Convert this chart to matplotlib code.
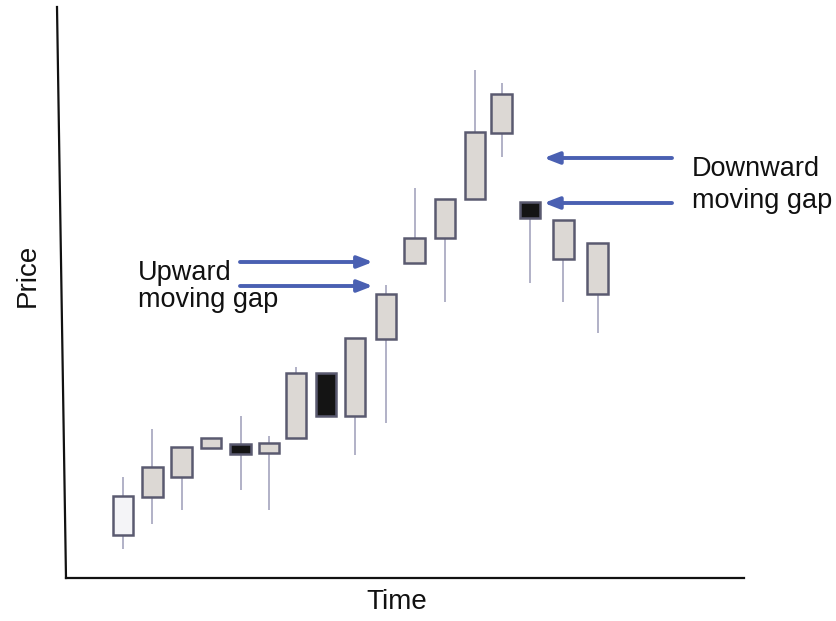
import matplotlib
matplotlib.use("Agg")
import matplotlib.pyplot as plt
from matplotlib.patches import Rectangle
from matplotlib.lines import Line2D

plt.rcParams['font.family'] = ['Liberation Sans', 'DejaVu Sans']

# Data (time units, price units)
times  = [1.90, 2.88, 3.85, 4.83, 5.82, 6.77, 7.67, 8.67, 9.63, 10.67, 11.62, 12.63, 13.63, 14.52, 15.47, 16.58, 17.72]
body_lo = [4.3, 8.1, 10.1, 13.0, 12.4, 12.5, 14.0, 16.2, 16.2, 23.9, 31.5, 34.0, 37.9, 44.5, 36.0, 31.9, 28.4]
body_hi = [8.2, 11.1, 13.1, 14.0, 13.4, 13.5, 20.5, 20.5, 24.0, 28.4, 34.0, 37.9, 44.6, 48.4, 37.6, 35.8, 33.5]
highs   = [10.1, 14.9, 13.1, 14.0, 16.2, 14.2, 21.1, 20.5, 24.0, 29.3, 39.0, 37.9, 50.8, 49.5, 37.6, 35.8, 33.5]
lows    = [2.9, 5.4, 6.8, 13.0, 8.8, 6.8, 14.0, 16.2, 12.3, 15.5, 31.5, 27.6, 37.9, 42.1, 29.5, 27.6, 24.5]
kinds   = ['white', 'gray', 'gray', 'gray', 'black', 'gray', 'gray', 'black', 'gray', 'gray',
           'gray', 'gray', 'gray', 'gray', 'black', 'gray', 'gray']

up_arrow_y = [31.6, 29.2]
up_arrow_x = (5.8, 10.23)
down_arrow_y = [42.0, 37.5]
down_arrow_x = (20.2, 15.93)

fill_colors = {'white': '#f4f4f7', 'gray': '#dcd8d4', 'black': '#141414'}
edge_color = '#5a5a70'
wick_color = '#9c9cb8'
arrow_color = '#4a60b2'

W, H = 836, 621
fig = plt.figure(figsize=(W / 100, H / 100), dpi=100)
fig.patch.set_facecolor('white')
ax = fig.add_axes([66 / W, 1 - 578 / H, (744 - 66) / W, (578 - 7) / H])
ax.set_xlim(0, (744 - 66) / 30)
ax.set_ylim(0, (578 - 7) / 10)
ax.set_xticks([])
ax.set_yticks([])
for s in ['top', 'right', 'left']:
    ax.spines[s].set_visible(False)
ax.spines['bottom'].set_linewidth(1.6)
ax.spines['bottom'].set_color('#111111')

# slanted left axis line (figure pixels)
fig.add_artist(Line2D([57 / W, 66 / W], [1 - 7 / H, 1 - 578 / H], transform=fig.transFigure,
                      color='#111111', linewidth=1.6))

bw = 0.68
for t, lo, hi, h, l, k in zip(times, body_lo, body_hi, highs, lows, kinds):
    ax.plot([t, t], [l, h], color=wick_color, linewidth=1.1, zorder=1, solid_capstyle='butt')
    ax.add_patch(Rectangle((t - bw / 2, lo), bw, hi - lo, facecolor=fill_colors[k],
                           edgecolor=edge_color, linewidth=1.8, zorder=2))

for y in up_arrow_y:
    ax.annotate('', xy=(up_arrow_x[1], y), xytext=(up_arrow_x[0], y),
                arrowprops=dict(arrowstyle='-|>,head_length=0.9,head_width=0.35',
                                color=arrow_color, linewidth=2.8, shrinkA=0, shrinkB=0),
                annotation_clip=False)
for y in down_arrow_y:
    ax.annotate('', xy=(down_arrow_x[1], y), xytext=(down_arrow_x[0], y),
                arrowprops=dict(arrowstyle='-|>,head_length=0.9,head_width=0.35',
                                color=arrow_color, linewidth=2.8, shrinkA=0, shrinkB=0),
                annotation_clip=False)

fs = 19.5
ax.text(2.4, 29.8, 'Upward', fontsize=fs, va='baseline', ha='left', color='#111111')
ax.text(2.4, 27.1, 'moving gap', fontsize=fs, va='baseline', ha='left', color='#111111')
ax.text(20.87, 40.2, 'Downward', fontsize=fs, va='baseline', ha='left', color='#111111', clip_on=False)
ax.text(20.87, 37.0, 'moving gap', fontsize=fs, va='baseline', ha='left', color='#111111', clip_on=False)

fig.text(28 / W, 1 - 275 / H, 'Price', rotation=90, fontsize=20, ha='center', va='center', color='#111111')
fig.text(397 / W, 1 - 602 / H, 'Time', fontsize=20, ha='center', va='center', color='#111111')

fig.savefig('out.png', dpi=100, facecolor='white')
